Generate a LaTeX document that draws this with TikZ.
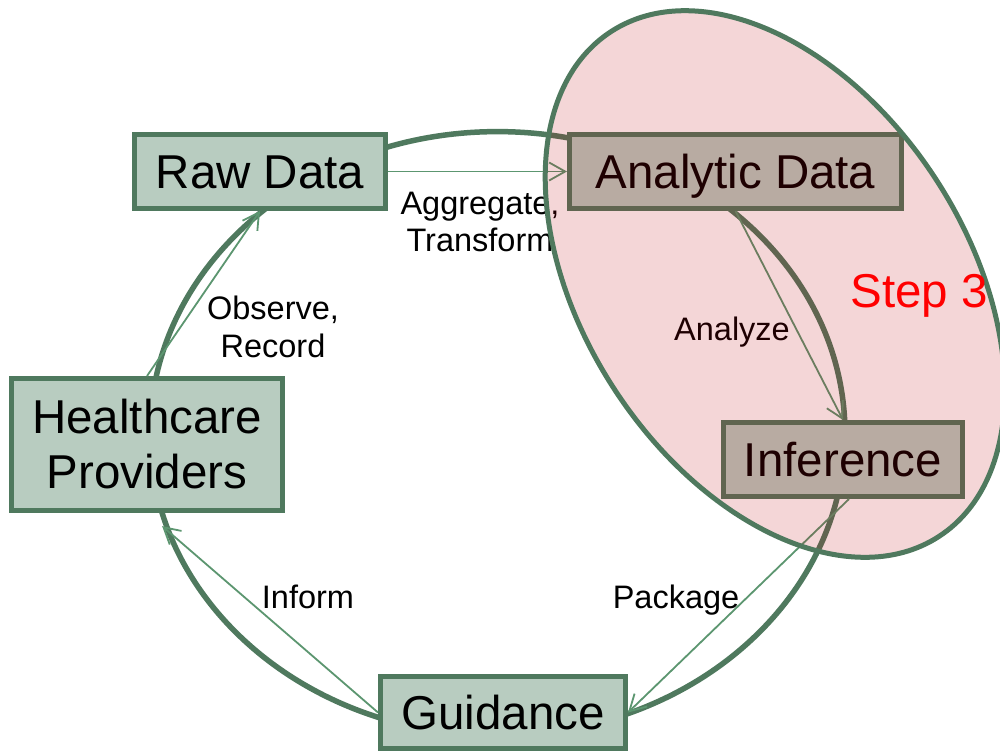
\documentclass[tikz,border=0pt]{standalone}
\usepackage{fontspec}
\setmainfont{Liberation Sans}
\usetikzlibrary{arrows.meta}
\definecolor{gborder}{RGB}{79,121,94}
\definecolor{gfill}{RGB}{184,204,192}
\definecolor{garrow}{RGB}{92,150,112}
\definecolor{pinkov}{RGB}{190,0,10}
\begin{document}
\begin{tikzpicture}[x=1pt,y=-1pt,
  box/.style={draw=gborder, fill=gfill, line width=5pt, inner sep=0pt,
    font=\fontsize{47.5}{55}\selectfont, text height=34pt, text depth=0pt},
  multibox/.style={draw=gborder, fill=gfill, line width=5pt, inner sep=0pt,
    font=\fontsize{47.5}{55}\selectfont, align=center},
  flow/.style={draw=garrow, line width=1.8pt, -{Straight Barb[length=16pt,width=18pt]}},
  lbl/.style={font=\fontsize{32.5}{37.5}\selectfont, align=center, inner sep=0pt},
  cyclepath/.style={draw=gborder, line width=5.5pt},
  stepnote/.style={font=\fontsize{47.5}{55}\selectfont, text=red, inner sep=0pt}]
\useasboundingbox (0,0) rectangle (1000,753);
\fill[white] (0,0) rectangle (1000,753);
% big cycle
\draw[cyclepath] (497.5,433.6) ellipse [x radius=347.5pt, y radius=302pt];
% nodes
\node[box, minimum width=251pt, minimum height=74pt] (raw) at (260,171.5) {Raw Data};
\node[box, minimum width=332pt, minimum height=74pt] (ana) at (735.5,171.5) {Analytic Data};
\node[multibox, minimum width=271pt, minimum height=132pt] (hc) at (147,444.5) {Healthcare\\Providers};
\node[box, minimum width=239pt, minimum height=74pt] (inf) at (843,459.5) {Inference};
\node[box, minimum width=245pt, minimum height=72pt] (gui) at (503,712.5) {Guidance};
% flows
\draw[flow] (raw.east) -- (ana.west);
\draw[flow] (ana.south) -- (inf.north);
\draw[flow] ([xshift=6pt]inf.south) -- (gui.east);
\draw[flow, shorten >=20pt] (gui.west) -- (hc.south);
\draw[flow] (hc.north) -- (raw.south);
% labels
\node[lbl] (lagg) at (480,222) {Aggregate,\\Transform};
\node[lbl, anchor=base] (lana) at (732,340) {Analyze};
\node[lbl, anchor=base] (lpack) at (676,608) {Package};
\node[lbl, anchor=base] (linf) at (308,608) {Inform};
\node[lbl] (lobs) at (273,327) {Observe,\\Record};
% step 3 highlight
\begin{scope}[shift={(775,284)}, rotate=-57]
  \fill[pinkov, fill opacity=0.16] (0,0) ellipse [x radius=301pt, y radius=192pt];
  \draw[gborder, line width=5pt] (0,0) ellipse [x radius=301pt, y radius=192pt];
\end{scope}
\node[stepnote, anchor=base] (step) at (919,307) {Step 3};
\end{tikzpicture}
\end{document}
